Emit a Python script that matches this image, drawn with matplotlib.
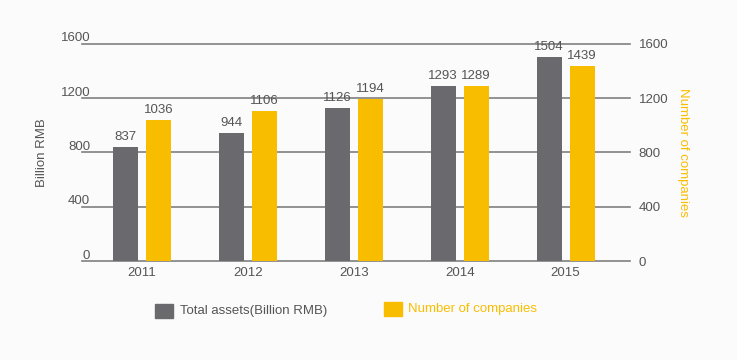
import matplotlib
matplotlib.use("Agg")
import matplotlib.pyplot as plt
import matplotlib.transforms as mtransforms
import numpy as np

plt.rcParams['font.family'] = ['Liberation Sans', 'DejaVu Sans']

years = ["2011", "2012", "2013", "2014", "2015"]
total_assets = [837, 944, 1126, 1293, 1504]
num_companies = [1036, 1106, 1194, 1289, 1439]
yticks = [0, 400, 800, 1200, 1600]

GRAY = "#6a6a6e"
YELLOW = "#f9bd00"
TEXT = "#555555"
BG = "#fcfbfb"

fig = plt.figure(figsize=(7.37, 3.6), dpi=100, facecolor=BG)
ax = fig.add_axes([0.111, 0.275, 0.744, 0.603], facecolor=BG)

x = np.arange(len(years))
w = 0.236
off = 0.156
ax.bar(x - off, total_assets, width=w, color=GRAY, zorder=3)
ax.bar(x + off, num_companies, width=w, color=YELLOW, zorder=3)

for xi, v in zip(x, total_assets):
    ax.text(xi - off, v + 30, str(v), ha='center', va='bottom', fontsize=9.5, color=TEXT)
for xi, v in zip(x, num_companies):
    ax.text(xi + off, v + 30, str(v), ha='center', va='bottom', fontsize=9.5, color=TEXT)

ax.set_xlim(-0.57, 4.61)
ax.set_ylim(0, 1600)
for t in yticks:
    ax.axhline(t, color="#808080", lw=1.2, zorder=1, clip_on=False)

ax.set_xticks(x)
ax.set_xticklabels(years, fontsize=9.5, color=TEXT)
ax.set_yticks(yticks)
ax.set_yticklabels([str(t) for t in yticks], fontsize=9.5, color=TEXT)
ax.tick_params(axis='both', length=0)
ax.tick_params(axis='x', pad=4)
ax.tick_params(axis='y', pad=-6)
shift = mtransforms.ScaledTranslation(0, 5/72, fig.dpi_scale_trans)
for lab in ax.get_yticklabels():
    lab.set_transform(lab.get_transform() + shift)
for s in ax.spines.values():
    s.set_visible(False)
ax.set_ylabel("Billion RMB", fontsize=9.5, color=TEXT, labelpad=9)

ax2 = ax.twinx()
ax2.set_ylim(0, 1600)
ax2.set_yticks(yticks)
ax2.set_yticklabels([str(t) for t in yticks], fontsize=9.5, color=TEXT)
ax2.tick_params(axis='y', length=0, pad=6)
for s in ax2.spines.values():
    s.set_visible(False)
ax2.set_ylabel("Number of companies", fontsize=9.5, color=YELLOW, rotation=-90,
               labelpad=15)

# legend
fig.patches.append(plt.Rectangle((155/737, 1 - 318/360), 18/737, 14/360,
                                 transform=fig.transFigure, color=GRAY))
fig.text(180/737, 1 - 311/360, "Total assets(Billion RMB)", fontsize=9.5,
         color=TEXT, va='center')
fig.patches.append(plt.Rectangle((384/737, 1 - 316/360), 18/737, 14/360,
                                 transform=fig.transFigure, color=YELLOW))
fig.text(408/737, 1 - 309/360, "Number of companies", fontsize=9.5,
         color=YELLOW, va='center')

fig.savefig("out.png", dpi=100, facecolor=BG)
